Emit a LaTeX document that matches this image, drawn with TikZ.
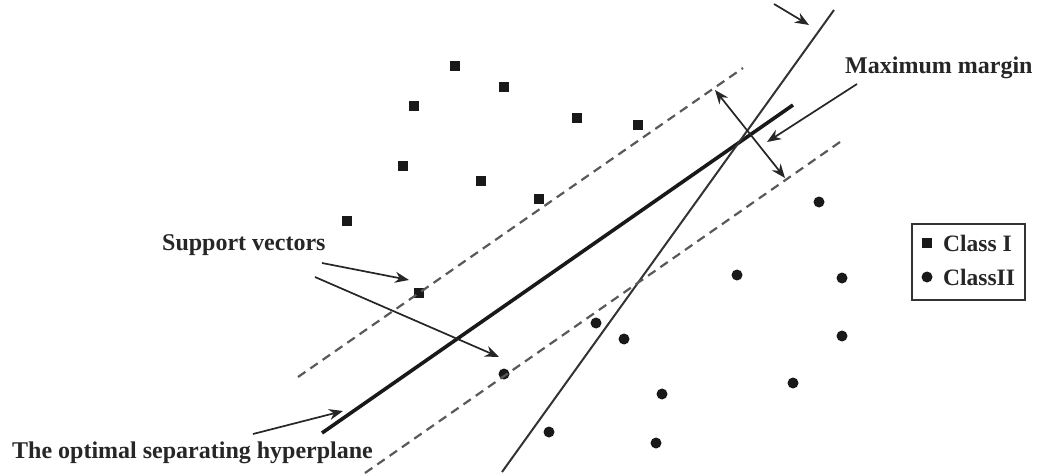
\documentclass[tikz,border=0pt]{standalone}
\usepackage{fontspec}
\setmainfont{Liberation Serif}
\usetikzlibrary{arrows.meta}

\begin{document}
\begin{tikzpicture}[
    x=1pt, y=-1pt,
    sqpt/.style={rectangle, fill=black!90, minimum size=10.5pt, inner sep=0pt},
    cipt/.style={circle, fill=black!90, minimum size=11pt, inner sep=0pt},
    lbl/.style={font=\fontsize{24}{28}\selectfont\bfseries, text=black!85, inner sep=0pt, anchor=west},
    hyper/.style={line width=3.6pt, black!90},
    other/.style={line width=2pt, black!80},
    margin/.style={line width=2.2pt, black!65, dash pattern=on 9pt off 6pt},
    arrow/.style={-{Stealth[length=14pt, width=11pt]}, line width=1.7pt, black!85}
]
\useasboundingbox (0,0) rectangle (1038,476);

% class I points
\node[sqpt] (a1) at (455,66) {};
\node[sqpt] (a2) at (504,87) {};
\node[sqpt] (a3) at (414,106) {};
\node[sqpt] (a4) at (577,118) {};
\node[sqpt] (a5) at (638,125) {};
\node[sqpt] (a6) at (403,166) {};
\node[sqpt] (a7) at (481,181) {};
\node[sqpt] (a8) at (539,199) {};
\node[sqpt] (a9) at (347,221) {};
\node[sqpt] (sv1) at (419,293) {};

% class II points
\node[cipt] (b1) at (819,202) {};
\node[cipt] (b2) at (737,275) {};
\node[cipt] (b3) at (842,278) {};
\node[cipt] (b4) at (596,323) {};
\node[cipt] (b5) at (624,339) {};
\node[cipt] (b6) at (842,336) {};
\node[cipt] (b7) at (793,383) {};
\node[cipt] (b8) at (662,394) {};
\node[cipt] (b9) at (549,432) {};
\node[cipt] (b10) at (656,443) {};
\node[cipt] (sv2) at (504,374) {};

% hyperplanes
\coordinate (h1) at (322,433);
\coordinate (h2) at (793,105);
\coordinate (o1) at (502,472);
\coordinate (o2) at (834,10);
\coordinate (u1) at (298,377);
\coordinate (u2) at (743,68);
\coordinate (l1) at (365,473);
\coordinate (l2) at (840,142);
\draw[hyper] (h1) -- (h2);
\draw[other] (o1) -- (o2);
\draw[margin] (u1) -- (u2);
\draw[margin] (l1) -- (l2);

% margin width
\coordinate (m1) at (715,90);
\coordinate (m2) at (785,178);
\draw[arrow, {Stealth[length=14pt, width=11pt]}-{Stealth[length=14pt, width=11pt]}] (m1) -- (m2);

% labels
\node[lbl] (maxm) at (845,68) {Maximum margin};
\node[lbl] (supp) at (162,245) {Support vectors};
\node[lbl] (opt) at (12,453) {The optimal separating hyperplane};

\coordinate (t0) at (774,4);
\coordinate (t1) at (809,25);
\draw[arrow] (t0) -- (t1);
\coordinate (mm0) at (857,84);
\coordinate (mm1) at (767,142);
\draw[arrow] (mm0) -- (mm1);
\coordinate (s0) at (322,263);
\coordinate (s1) at (409,280);
\draw[arrow] (s0) -- (s1);
\coordinate (s2) at (315,277);
\coordinate (s3) at (499,357);
\draw[arrow] (s2) -- (s3);
\coordinate (p0) at (253,434);
\coordinate (p1) at (343,411);
\draw[arrow] (p0) -- (p1);

% legend
\node[draw=black!80, line width=2pt, minimum width=113pt, minimum height=76pt, inner sep=0pt] (legend) at (968.5,262) {};
\node[sqpt] (ka) at (927,243) {};
\node[cipt] (kb) at (927,277) {};
\node[lbl, font=\fontsize{23.5}{28}\selectfont\bfseries] (ta) at (943,243) {Class I};
\node[lbl, font=\fontsize{23.5}{28}\selectfont\bfseries] (tb) at (943,277) {ClassII};

\end{tikzpicture}
\end{document}
